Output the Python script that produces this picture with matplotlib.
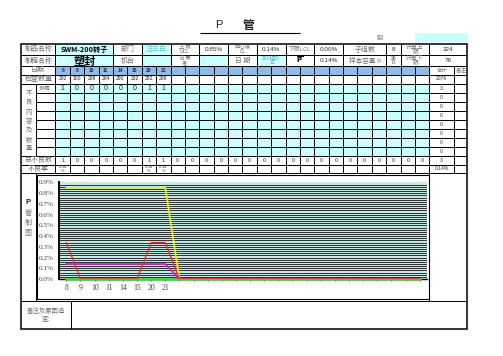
import matplotlib
matplotlib.use("Agg")
import matplotlib.pyplot as plt
from matplotlib.patches import Rectangle

# ---- data read from the form ----
dates = ["8", "9", "10", "11", "14", "15", "20", "21"]
inspected = [292, 100, 288, 284, 290, 232, 292, 298]
scrap = [1, 0, 0, 0, 0, 0, 1, 1]
total_defects = [1, 0, 0, 0, 0, 0, 1, 1, 0, 0, 0, 0, 0, 0, 0, 0, 0, 0, 0, 0, 0, 0, 0, 0, 0, 0]
defect_rate_txt = ["0.34\n%", "", "", "", "", "", "0.34\n%", "0.34\n%"]
row_totals = ["2076", "3", "0", "0", "0", "0", "0", "0", "0", "3", "0.14%"]

# chart series (percent)
p_values = [0.34, 0, 0, 0, 0, 0, 0.34, 0.34, 0, 0, 0, 0, 0, 0, 0, 0, 0, 0, 0, 0, 0, 0, 0, 0, 0, 0]
ucl = [0.85, 0.85, 0.85, 0.85, 0.85, 0.85, 0.85, 0.85, 0, 0, 0, 0, 0, 0, 0, 0, 0, 0, 0, 0, 0, 0, 0, 0, 0, 0]
cl = [0.14, 0.14, 0.14, 0.14, 0.14, 0.14, 0.14, 0.14, 0, 0, 0, 0, 0, 0, 0, 0, 0, 0, 0, 0, 0, 0, 0, 0, 0, 0]
lcl = [0, 0, 0, 0, 0, 0, 0, 0, 0, 0, 0, 0, 0, 0, 0, 0, 0, 0, 0, 0, 0, 0, 0, 0, 0, 0]
x_labels = dates + [""] * 18

CJK = ["Noto Sans CJK SC", "DejaVu Sans"]
SANS = ["Liberation Sans", "DejaVu Sans"]
SERIF = ["Liberation Serif", "DejaVu Serif"]
GRAY = "#707070"
CYAN = "#ccffff"
BLUE = "#8fbbea"

fig = plt.figure(figsize=(5.03, 3.56), dpi=100)
ax = fig.add_axes([0, 0, 1, 1])
ax.set_xlim(0, 503)
ax.set_ylim(356, 0)
ax.axis("off")

# grid geometry
L, R = 21, 467.5
gx = [55.5 + 14.38 * k for k in range(27)]
x_sum = 453.8
rows = [44, 55, 66, 74.5, 83.5, 92.7, 101.8, 110.9, 120, 129, 138, 147, 156, 164.5, 173, 300.7, 329]


def fill(x0, x1, y0, y1, c):
    ax.add_patch(Rectangle((x0, y0), x1 - x0, y1 - y0, facecolor=c, edgecolor="none", zorder=1))


def txt(x0, x1, y0, y1, s, size=5, color=GRAY, family=CJK, **kw):
    ax.text((x0 + x1) / 2, (y0 + y1) / 2, s, ha="center", va="center", fontsize=size,
            color=color, family=family, zorder=4, linespacing=0.9, **kw)


def hl(y, x0, x1, lw=0.7):
    ax.plot([x0, x1], [y, y], color="black", lw=lw, zorder=3, solid_capstyle="butt")


def vl(x, y0, y1, lw=0.7):
    ax.plot([x, x], [y0, y1], color="black", lw=lw, zorder=3, solid_capstyle="butt")


# title
ax.text(219, 25, "P", ha="center", va="center", fontsize=8, family=SANS, color="#222")
ax.text(249, 25, "管", ha="center", va="center", fontsize=8.5, family=CJK, weight="bold", color="#222")
hl(33.3, 200, 300, lw=0.8)
ax.text(380, 38, "制", ha="center", va="center", fontsize=4.5, family=CJK, color=GRAY)
fill(415, 468, 33, 42, CYAN)

# fills
fill(gx[0], gx[4], rows[0], rows[2], CYAN)
fill(gx[6], gx[8], rows[0], rows[2], CYAN)
fill(gx[10], gx[12], rows[1], rows[2], CYAN)
fill(gx[14], gx[16], rows[1], rows[2], CYAN)
fill(gx[0], gx[26], rows[2], rows[3], BLUE)
fill(gx[0], gx[26], rows[4], rows[12], CYAN)

# header row 1
y0, y1 = rows[0], rows[1]
txt(L, gx[0], y0, y1, "制品名称")
txt(gx[0], gx[4], y0, y1, "SWM-200转子", size=5.2, color="black", weight="bold")
txt(gx[4], gx[6], y0, y1, "部门")
txt(gx[6], gx[8], y0, y1, "注三白", color="#5cc8c8")
txt(gx[8], gx[10], y0, y1, "上 限\nUCL", size=3.8)
txt(gx[10], gx[12], y0, y1, "0.85%", size=4.6, family=SANS, color="#333")
txt(gx[12], gx[14], y0, y1, "中心線\nCL", size=3.8)
txt(gx[14], gx[16], y0, y1, "0.14%", size=4.6, family=SANS, color="#333")
txt(gx[16], gx[18], y0, y1, "下限LCL", size=4.2)
txt(gx[18], gx[20], y0, y1, "0.00%", size=4.6, family=SANS, color="#333")
txt(gx[20], gx[23], y0, y1, "子组数")
txt(gx[23], gx[24], y0, y1, "8", size=4.6, family=SANS, color="#333")
txt(gx[24], gx[26], y0, y1, "计算上\n限", size=4.2)
txt(gx[26], R, y0, y1, "324", size=4.6, family=SANS, color="#333")

# header row 2
y0, y1 = rows[1], rows[2]
txt(L, gx[0], y0, y1, "制程名称")
txt(gx[0], gx[4], y0 + 1.5, y1 + 1.5, "塑封", size=8, color="black", weight="bold")
txt(gx[4], gx[6], y0, y1, "机台")
txt(gx[8], gx[10], y0, y1, "记 录\n者", size=3.8)
txt(gx[12], gx[14], y0, y1, "日 期")
txt(gx[14], gx[16], y0, y1, "2014年5\n日", size=3.4, color="#4aa8c8")
txt(gx[16], gx[18], y0, y1, r"$\overline{\mathbf{P}}$", size=5, color="black", family=SANS)
txt(gx[18], gx[20], y0, y1, "0.14%", size=4.6, family=SANS, color="#333")
txt(gx[20], gx[23], y0, y1, "样本容量 n", size=4.8)
txt(gx[23], gx[24], y0, y1, "26\n0", size=3.6, family=SANS, color="#333")
txt(gx[24], gx[26], y0, y1, "计算下\n限", size=4.2)
txt(gx[26], R, y0, y1, "78", size=4.6, family=SANS, color="#333")

# date row
y0, y1 = rows[2], rows[3]
txt(L, gx[0], y0, y1, "日期")
for i, d in enumerate(dates):
    txt(gx[i], gx[i + 1], y0, y1, d, size=3.6, family=SANS, color="#1a2a60", weight="bold")
txt(gx[26], x_sum, y0, y1, "合计", size=3.8)
txt(x_sum, R, y0, y1, "备注", size=3.8)

# inspected row
y0, y1 = rows[3], rows[4]
txt(L, gx[0], y0, y1, "检查数量")
for i, n in enumerate(inspected):
    txt(gx[i], gx[i + 1], y0, y1, str(n), size=3.6, family=SANS, color="#222")

# defect rows
y0, y1 = rows[4], rows[5]
txt(36, gx[0], y0, y1, "碎屑", size=4)
for i, v in enumerate(scrap):
    txt(gx[i], gx[i + 1], y0, y1, str(v), size=5, family=SANS, color="#222")
ax.text(28.5, (rows[4] + rows[12]) / 2 + 1, "\n".join("不良内容及数量"), ha="center", va="center",
        fontsize=4.6, family=CJK, color=GRAY, linespacing=1.2, zorder=4)
for k, s in enumerate(row_totals):
    txt(gx[26], x_sum, rows[3 + k], rows[4 + k], s, size=3.6, family=SANS, color="#333")

# total defects row
y0, y1 = rows[12], rows[13]
txt(L, gx[0], y0, y1, "总不良数")
for i, v in enumerate(total_defects):
    txt(gx[i], gx[i + 1], y0, y1, str(v), size=3.8, family=SANS, color="#222")
y0, y1 = rows[13], rows[14]
txt(L, gx[0], y0, y1, "不良率")
for i, s in enumerate(defect_rate_txt):
    txt(gx[i], gx[i + 1], y0, y1, s, size=3.2, family=SANS, color="#444")

# chart section label
ax.text(28.3, 203, "P", ha="center", va="center", fontsize=5.5, family=SANS, weight="bold", color="#222")
for k, ch in enumerate("管制图"):
    ax.text(28.3, 213.5 + 10 * k, ch, ha="center", va="center", fontsize=5, family=CJK, color=GRAY)

# remarks row
txt(L, 70.7, rows[15], rows[16], "备注及原因追\n查:", size=4.6)

# lines
for y in rows[1:5]:
    hl(y, L, R)
for y in rows[5:12]:
    hl(y, 36, R)
for y in rows[12:16]:
    hl(y, L, R)
for k in [0, 4, 6, 8, 10, 12, 14, 16, 18, 20, 23, 24, 26]:
    vl(gx[k], rows[0], rows[2])
for x in gx:
    vl(x, rows[2], rows[14])
vl(x_sum, rows[2], rows[14])
vl(36, rows[4], rows[12])
vl(36, rows[14], rows[15])
vl(gx[26], rows[14], rows[15])
vl(70.7, rows[15], rows[16])
ax.add_patch(Rectangle((L, rows[0]), R - L, rows[16] - rows[0], fill=False, edgecolor="black", lw=1.1, zorder=3))

# chart object frame
ax.add_patch(Rectangle((37.5, 174.5), gx[26] - 37.5, 298.6 - 174.5, facecolor="white",
                       edgecolor="black", lw=0.8, zorder=2))

# ---- the P chart ----
cax = fig.add_axes([59.3 / 503, (356 - 279) / 356, 367.4 / 503, 96.5 / 356])
cax.set_facecolor("#c9e8e6")
xs = list(range(len(x_labels)))
grid_levels = [k * 0.02 for k in range(1, 45)]
for g in grid_levels:
    cax.axhline(g, color="black", lw=0.55, zorder=1)
cax.plot(xs, lcl, color="#3ed23e", lw=1.8, zorder=3, clip_on=False)
cax.plot(xs, ucl, color="#eded10", lw=1.3, zorder=4)
cax.plot(xs, cl, color="#c828c8", lw=1.3, zorder=4)
cax.plot(xs, p_values, color="#e03030", lw=1.0, zorder=5)
cax.set_xlim(-0.5, len(xs) - 0.5)
cax.set_ylim(0, 0.9)
cax.set_yticks([k * 0.1 for k in range(10)])
cax.set_yticklabels([f"{k * 0.1:.1f}%" for k in range(10)], family=SERIF, fontsize=5.2, color="#444")
cax.set_xticks(xs)
cax.set_xticklabels(x_labels, family=SERIF, fontsize=5.5, color="#444")
cax.tick_params(axis="x", direction="inout", length=3, width=0.7, color="#b04020", pad=2)
cax.tick_params(axis="y", length=0, pad=4)
for side in ["top", "right"]:
    cax.spines[side].set_visible(False)
cax.spines["left"].set_linewidth(1.4)
cax.spines["bottom"].set_linewidth(1.0)

fig.savefig("out.png", dpi=100)
